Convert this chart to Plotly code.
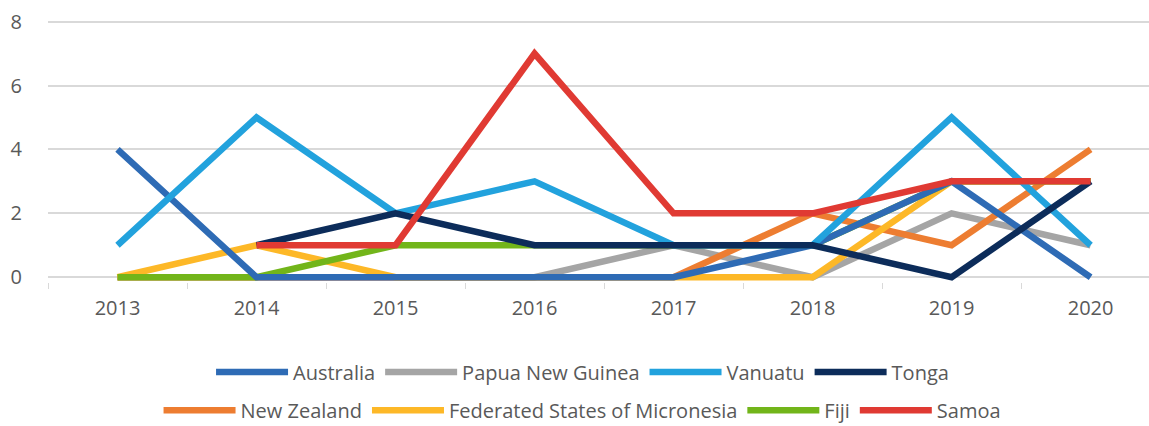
import plotly.graph_objects as go

years = [2013, 2014, 2015, 2016, 2017, 2018, 2019, 2020]

australia = [4, 0, 0, 0, 0, 1, 3, 0]
papua_new_guinea = [0, 0, 0, 0, 1, 0, 2, 1]
vanuatu = [1, 5, 2, 3, 1, 1, 5, 1]
tonga = [None, 1, 2, 1, 1, 1, 0, 3]
new_zealand = [0, 0, 0, 0, 0, 2, 1, 4]
micronesia = [0, 1, 0, 0, 0, 0, 3, 3]
fiji = [0, 0, 1, 1, 1, 1, 3, 3]
samoa = [None, 1, 1, 7, 2, 2, 3, 3]

y_ticks = [0, 2, 4, 6, 8]

# (name, values, colour, legend group, legend rank) in drawing order
series = [
    ("Papua New Guinea", papua_new_guinea, "#A5A5A5", "legend", 2),
    ("New Zealand", new_zealand, "#ED7D31", "legend2", 5),
    ("Federated States of Micronesia", micronesia, "#FDB827", "legend2", 6),
    ("Fiji", fiji, "#72B51A", "legend2", 7),
    ("Australia", australia, "#2E6BB5", "legend", 1),
    ("Vanuatu", vanuatu, "#22A2DD", "legend", 3),
    ("Tonga", tonga, "#0C2C5A", "legend", 4),
    ("Samoa", samoa, "#E03A33", "legend2", 8),
]

fig = go.Figure()
for name, vals, col, leg, rank in series:
    fig.add_trace(go.Scatter(
        x=years, y=vals, name=name, mode="lines",
        line=dict(color=col, width=6.5),
        legend=leg, legendrank=rank, connectgaps=False,
    ))

font_family = "Open Sans, Noto Sans, DejaVu Sans, sans-serif"
legend_common = dict(
    orientation="h", xref="container", yref="container",
    xanchor="center", yanchor="middle",
    font=dict(size=20, color="#595959"), bgcolor="rgba(0,0,0,0)",
    traceorder="normal", itemwidth=72, tracegroupgap=0,
)
fig.update_layout(
    width=1149, height=426,
    margin=dict(l=48, r=0, t=20, b=144, autoexpand=False),
    paper_bgcolor="white", plot_bgcolor="white",
    font=dict(family=font_family, color="#595959", size=20),
    xaxis=dict(
        range=[2012.5, 2020.42], automargin=False,
        tickvals=years, ticktext=[str(y) for y in years],
        showgrid=False, zeroline=False, showline=False,
        ticks="", ticklabelstandoff=12,
        tickfont=dict(size=20, color="#595959"),
        minor=dict(tickvals=[2012.5 + i for i in range(9)], ticks="outside",
                   ticklen=6, tickcolor="#D9D9D9", tickwidth=1, showgrid=False),
    ),
    yaxis=dict(
        range=[-0.15, 8.05], automargin=False,
        tickvals=y_ticks, showgrid=True, gridcolor="#D9D9D9", gridwidth=1.5,
        zeroline=False, showline=False, ticks="",
        ticklabelstandoff=25,
        tickfont=dict(size=20, color="#595959"),
    ),
    legend=dict(x=0.507, y=0.127, **legend_common),
    legend2=dict(x=0.507, y=0.037, **legend_common),
)

fig.write_html(
    "out.html",
    config={"displayModeBar": False},
    post_script="document.body.style.margin='0';document.body.style.overflow='hidden';",
)
